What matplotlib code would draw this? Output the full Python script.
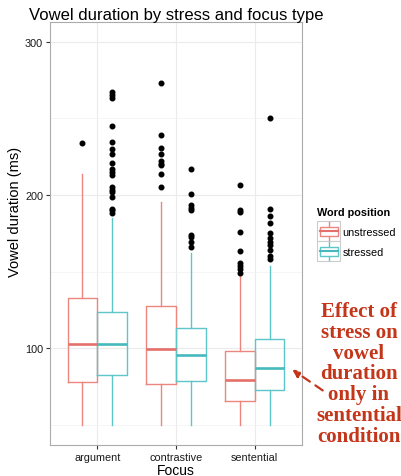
import matplotlib
matplotlib.use('Agg')
import matplotlib.pyplot as plt
from matplotlib.legend_handler import HandlerBase
from matplotlib.lines import Line2D
from matplotlib.patches import Rectangle, FancyArrowPatch
from matplotlib.ticker import MultipleLocator

plt.rcParams['font.family'] = ['Liberation Sans', 'DejaVu Sans']

# ---------------- data ----------------
focus = ['argument', 'contrastive', 'sentential']
series = ['unstressed', 'stressed']

unstr_low = [50, 50, 50]
unstr_q1 = [78, 76.5, 65.5]
unstr_med = [102.5, 99.5, 79]
unstr_q3 = [133, 127.5, 98]
unstr_high = [214, 195.5, 147]
unstr_out = [
    [234],
    [273, 239, 231, 226.5, 222, 220.5, 219.5, 214, 205],
    [206.5, 190, 189, 176, 163.5, 155.5, 153.5, 152, 149],
]

str_low = [50, 50, 50]
str_q1 = [82.5, 78.5, 72.5]
str_med = [103, 95.5, 87]
str_q3 = [124, 113, 106]
str_high = [185, 162, 154]
str_out = [
    [267, 265, 263, 245, 234.5, 230, 226.5, 221, 217, 215, 213, 205, 203.5,
     202, 199, 191, 190, 188.5],
    [217, 201, 193.5, 191.5, 190, 174, 172.5, 169.5, 166],
    [250.5, 191, 186.5, 181.5, 175, 172, 169.5, 167.5, 164, 160.5, 158],
]

title = 'Vowel duration by stress and focus type'
xlabel = 'Focus'
ylabel = 'Vowel duration (ms)'
legend_title = 'Word position'
note = 'Effect of\nstress on\nvowel\nduration\nonly in\nsentential\ncondition'

# ---------------- style ----------------
line_colors = {'unstressed': '#EC857E', 'stressed': '#5CC6C9'}
median_colors = {'unstressed': '#E3706A', 'stressed': '#45B9BC'}
note_color = '#C4361A'

W, H = 402, 477
fig = plt.figure(figsize=(W / 100, H / 100), dpi=100)
ax = fig.add_axes([50 / W, 1 - 445.7 / H, 252 / W, (445.7 - 23) / H])


def stats_for(low, q1, med, q3, high, out):
    return [dict(whislo=low[i], q1=q1[i], med=med[i], q3=q3[i],
                 whishi=high[i], fliers=out[i]) for i in range(len(low))]


data = {
    'unstressed': stats_for(unstr_low, unstr_q1, unstr_med, unstr_q3, unstr_high, unstr_out),
    'stressed': stats_for(str_low, str_q1, str_med, str_q3, str_high, str_out),
}

dodge = 0.1875
width = 0.375
base = list(range(1, len(focus) + 1))
for k, s in enumerate(series):
    off = -dodge if k == 0 else dodge
    c = line_colors[s]
    ax.bxp(data[s], positions=[p + off for p in base], widths=width,
           showcaps=False, patch_artist=False,
           boxprops=dict(color=c, linewidth=1.0),
           whiskerprops=dict(color=c, linewidth=1.0),
           medianprops=dict(color=median_colors[s], linewidth=1.9),
           flierprops=dict(marker='o', markerfacecolor='black',
                           markeredgecolor='black', markersize=3.3,
                           linestyle='none'),
           zorder=3)

ax.set_xlim(0.4, 3.6)
ax.set_ylim(37.1, 312.9)
ax.set_xticks(base)
ax.set_xticklabels(focus)
ax.yaxis.set_major_locator(MultipleLocator(100))
ax.yaxis.set_minor_locator(MultipleLocator(50))
ax.grid(True, which='major', color='#EBEBEB', linewidth=0.8, zorder=0)
ax.grid(True, which='minor', axis='y', color='#F4F4F4', linewidth=0.6, zorder=0)
ax.set_axisbelow(True)
ax.tick_params(axis='both', which='major', length=3, width=0.8,
               color='#333333', labelsize=7.8, labelcolor='#1a1a1a', pad=2)
ax.tick_params(axis='y', which='minor', length=0)
for sp in ax.spines.values():
    sp.set_color('#ABABAB')
    sp.set_linewidth(0.8)

ax.set_title(title, fontsize=12, pad=2.5, color='black')
ax.set_xlabel(xlabel, fontsize=10, labelpad=1)
fig.text(15 / W, 1 - 212 / H, ylabel, rotation=90, ha='center', va='center',
         fontsize=10.5)


class BoxHandler(HandlerBase):
    def create_artists(self, legend, orig_handle, xdescent, ydescent,
                       width, height, fontsize, trans):
        c = orig_handle.get_color()
        mc = orig_handle.get_markerfacecolor()
        x0, y0 = -xdescent, -ydescent
        arts = []
        arts.append(Rectangle((x0, y0), width, height, facecolor='white',
                              edgecolor='#CCCCCC', linewidth=0.8))
        arts.append(Line2D([x0 + width / 2] * 2, [y0 + height * 0.05, y0 + height * 0.27],
                           color=c, linewidth=1.0))
        arts.append(Line2D([x0 + width / 2] * 2, [y0 + height * 0.73, y0 + height * 0.95],
                           color=c, linewidth=1.0))
        arts.append(Rectangle((x0 + width * 0.12, y0 + height * 0.27),
                              width * 0.76, height * 0.46, facecolor='white',
                              edgecolor=c, linewidth=1.0))
        arts.append(Line2D([x0 + width * 0.12, x0 + width * 0.88],
                           [y0 + height / 2] * 2, color=mc, linewidth=1.5))
        for a in arts:
            a.set_transform(trans)
        return arts


handles = [Line2D([], [], color=line_colors[s], markerfacecolor=median_colors[s])
           for s in series]
leg = fig.legend(handles, series, loc='upper left',
                 bbox_to_anchor=(315 / W, 1 - 206 / H),
                 handler_map={Line2D: BoxHandler()},
                 frameon=False, fontsize=7.8, title=legend_title,
                 title_fontproperties={'weight': 'bold', 'size': 7.8},
                 handlelength=2.15, handleheight=2.45, labelspacing=0.0,
                 handletextpad=0.2, borderpad=0.2, borderaxespad=0)
leg._legend_box.align = 'left'
leg._legend_box.sep = 3.0

fig.text(359 / W, 1 - 374.5 / H, note, ha='center', va='center',
         fontsize=15, family=['Liberation Serif', 'DejaVu Serif'],
         fontweight='bold', color=note_color, linespacing=1.065)

fig.patches.append(FancyArrowPatch(
    (325 / W, 1 - 393 / H), (290 / W, 1 - 369 / H),
    transform=fig.transFigure, arrowstyle='-|>', mutation_scale=11,
    color=note_color, linewidth=1.6, linestyle=(0, (4, 3))))

fig.savefig('out.png', dpi=100, facecolor='white')
